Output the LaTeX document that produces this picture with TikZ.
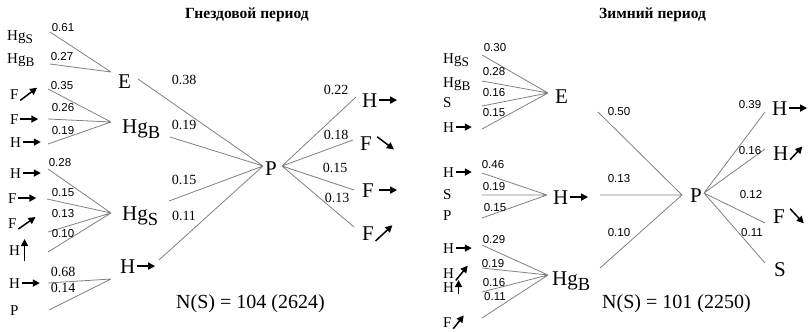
\documentclass[tikz,border=0pt]{standalone}
\usepackage{fontspec}
\usepackage{graphicx}
\setmainfont{Liberation Serif}
\newfontfamily\numfont{Liberation Sans}
\usetikzlibrary{arrows.meta}

\definecolor{linegray}{RGB}{135,126,126}

\tikzset{
  arrtip/.style = {-{Triangle[length=7pt,width=7pt]}, line width=1.5pt, black},
}

% subscript in Hg_S / Hg_B
\newcommand{\Hg}[1]{Hg\raisebox{-0.25em}{\scalebox{0.88}{#1}}}
% small bold arrow: [length]{angle}
\newcommand{\dirarr}[2][18]{\hspace{1pt}\tikz[baseline=-0.33em]
  \draw[arrtip] (0pt,0pt) ++(#2+180:#1*0.5pt) -- ++(#2:#1*1pt);}

\begin{document}
\begin{tikzpicture}[x=1pt, y=-1pt,
  lbl/.style = {font=\fontsize{15}{17}\selectfont, inner sep=0pt, anchor=base west},
  hub/.style = {font=\fontsize{21}{24}\selectfont, inner sep=0pt, anchor=base west},
  num/.style = {font=\numfont\fontsize{11.5}{13}\selectfont, inner sep=0pt},
  bignum/.style = {font=\fontsize{14}{16}\selectfont, inner sep=0pt},
  heading/.style = {font=\bfseries\fontsize{15.5}{17}\selectfont, inner sep=0pt, anchor=base west},
  total/.style = {font=\fontsize{20}{22}\selectfont, inner sep=0pt, anchor=base west},
  link/.style = {draw=linegray, line width=0.8pt},
]
\useasboundingbox (0,0) rectangle (809,332);

%% ── Titles ───────────────────────────────────────────────────────────────────
\node[heading] (nTitle) at (185,19) {Гнездовой период};
\node[heading] (wTitle) at (599,19) {Зимний период};

%% ── Nesting period: group E ──────────────────────────────────────────────────
\node[lbl] (nE-HgS) at (7,40) {\Hg{S}};
\node[lbl] (nE-HgB) at (7,63) {\Hg{B}};
\coordinate (nE-s1) at (50,32);
\coordinate (nE-s2) at (50,64);
\coordinate (nE-j) at (111,72);
\draw[link] (nE-s1) -- (nE-j) (nE-s2) -- (nE-j);
\node[num] (nE-n1) at (63,28) {0.61};
\node[num] (nE-n2) at (62,57) {0.27};
\node[hub] (nE) at (118,88) {E};

%% ── Nesting period: group Hg_B ───────────────────────────────────────────────
\node[lbl] (nHgB-F1) at (10,99) {F\dirarr[21]{37}};
\node[lbl] (nHgB-F2) at (10,124) {F\dirarr{0}};
\node[lbl] (nHgB-H1) at (10,147) {H\dirarr{0}};
\coordinate (nHgB-s1) at (48,89);
\coordinate (nHgB-s2) at (48,119);
\coordinate (nHgB-s3) at (48,144);
\coordinate (nHgB-j) at (111,122);
\draw[link] (nHgB-s1) -- (nHgB-j) (nHgB-s2) -- (nHgB-j) (nHgB-s3) -- (nHgB-j);
\node[num] (nHgB-n1) at (62,86) {0.35};
\node[num] (nHgB-n2) at (63,108) {0.26};
\node[num] (nHgB-n3) at (63,131) {0.19};
\node[hub] (nHgB) at (122,133) {\Hg{B}};

%% ── Nesting period: group Hg_S ───────────────────────────────────────────────
\node[lbl] (nHgS-H1) at (10,178) {H\dirarr{0}};
\node[lbl] (nHgS-F1) at (8,203) {F\dirarr{0}};
\node[lbl] (nHgS-F2) at (8,228) {F\dirarr[21]{35}};
\node[lbl] (nHgS-H2) at (9,255) {H\dirarr[22]{90}};
\coordinate (nHgS-s1) at (48,169);
\coordinate (nHgS-s2) at (47,199);
\coordinate (nHgS-s3) at (48,232);
\coordinate (nHgS-s4) at (48,252);
\coordinate (nHgS-j) at (111,213);
\draw[link] (nHgS-s1) -- (nHgS-j) (nHgS-s2) -- (nHgS-j)
            (nHgS-s3) -- (nHgS-j) (nHgS-s4) -- (nHgS-j);
\node[num] (nHgS-n1) at (60,163) {0.28};
\node[num] (nHgS-n2) at (63,193) {0.15};
\node[num] (nHgS-n3) at (63,214) {0.13};
\node[num] (nHgS-n4) at (63,234) {0.10};
\node[hub] (nHgS) at (122,220) {\Hg{S}};

%% ── Nesting period: group H ──────────────────────────────────────────────────
\node[lbl] (nH-H1) at (9,288) {H\dirarr{0}};
\node[lbl] (nH-P1) at (10,315) {P};
\coordinate (nH-s1) at (48,283);
\coordinate (nH-s2) at (49,310);
\coordinate (nH-j) at (111,279);
\draw[link] (nH-s1) -- (nH-j) (nH-s2) -- (nH-j);
\node[bignum] (nH-n1) at (63,272) {0.68};
\node[bignum] (nH-n2) at (63,288) {0.14};
\node[hub] (nH) at (120,273) {H\dirarr{0}};

%% ── Nesting period: P ────────────────────────────────────────────────────────
\node[hub] (nP) at (265,175) {P};
\coordinate (nP-in) at (263,166);
\coordinate (nP-out) at (282,166);
\coordinate (nE-o) at (138,79);
\coordinate (nHgB-o) at (170,137);
\coordinate (nHgS-o) at (169,201);
\coordinate (nH-o) at (159,260);
\draw[link] (nE-o) -- (nP-in) (nHgB-o) -- (nP-in)
            (nHgS-o) -- (nP-in) (nH-o) -- (nP-in);
\node[bignum] (nP-n1) at (184,80) {0.38};
\node[bignum] (nP-n2) at (184,125) {0.19};
\node[bignum] (nP-n3) at (184,180) {0.15};
\node[bignum] (nP-n4) at (184,216) {0.11};

\coordinate (nO1-e) at (356,97);
\coordinate (nO2-e) at (353,140);
\coordinate (nO3-e) at (354,190);
\coordinate (nO4-e) at (354,227);
\draw[link] (nP-out) -- (nO1-e) (nP-out) -- (nO2-e)
            (nP-out) -- (nO3-e) (nP-out) -- (nO4-e);
\node[bignum] (nO-n1) at (336,90) {0.22};
\node[bignum] (nO-n2) at (336,135) {0.18};
\node[bignum] (nO-n3) at (335,168) {0.15};
\node[bignum] (nO-n4) at (337,198) {0.13};
\node[hub] (nO1) at (362,107) {H\dirarr{0}};
\node[hub] (nO2) at (360,150) {F\,\dirarr[21]{-37}};
\node[hub] (nO3) at (362,197) {F\,\dirarr{0}};
\node[hub] (nO4) at (362,240) {F\dirarr[23]{43}};

\node[total] (nN) at (176,308) {N(S) = 104 (2624)};

%% ── Winter period: group E ───────────────────────────────────────────────────
\node[lbl] (wE-HgS) at (443,63) {\Hg{S}};
\node[lbl] (wE-HgB) at (443,87) {\Hg{B}};
\node[lbl] (wE-S1) at (443,107) {S};
\node[lbl] (wE-H1) at (443,132) {H\dirarr[16]{0}};
\coordinate (wE-s1) at (482,55);
\coordinate (wE-s2) at (482,81);
\coordinate (wE-s3) at (482,106);
\coordinate (wE-s4) at (482,129);
\coordinate (wE-j) at (548,93);
\draw[link] (wE-s1) -- (wE-j) (wE-s2) -- (wE-j)
            (wE-s3) -- (wE-j) (wE-s4) -- (wE-j);
\node[num] (wE-n1) at (495,48) {0.30};
\node[num] (wE-n2) at (494,72) {0.28};
\node[num] (wE-n3) at (494,93) {0.16};
\node[num] (wE-n4) at (494,113) {0.15};
\node[hub] (wE) at (555,103) {E};

%% ── Winter period: group H ───────────────────────────────────────────────────
\node[lbl] (wH-H1) at (443,177) {H\dirarr[16]{0}};
\node[lbl] (wH-S1) at (443,199) {S};
\node[lbl] (wH-P1) at (443,220) {P};
\coordinate (wH-s1) at (482,173);
\coordinate (wH-s2) at (482,195);
\coordinate (wH-s3) at (482,218);
\coordinate (wH-j) at (547,195);
\draw[link] (wH-s1) -- (wH-j) (wH-s2) -- (wH-j) (wH-s3) -- (wH-j);
\node[num] (wH-n1) at (493,165) {0.46};
\node[num] (wH-n2) at (494,187) {0.19};
\node[num] (wH-n3) at (495,208) {0.15};
\node[hub] (wH) at (553,204) {H\dirarr{0}};

%% ── Winter period: group Hg_B ────────────────────────────────────────────────
\node[lbl] (wHg-H1) at (443,253) {H\dirarr[16]{0}};
\node[lbl] (wHg-H2) at (443,278) {H\dirarr[19]{51}};
\node[lbl] (wHg-H3) at (443,292) {H\dirarr[14]{90}};
\node[lbl] (wHg-F1) at (443,327) {F\dirarr[17]{52}};
\coordinate (wHg-s1) at (482,245);
\coordinate (wHg-s2) at (482,268);
\coordinate (wHg-s3) at (482,292);
\coordinate (wHg-s4) at (482,318);
\coordinate (wHg-j) at (548,275);
\draw[link] (wHg-s1) -- (wHg-j) (wHg-s2) -- (wHg-j)
            (wHg-s3) -- (wHg-j) (wHg-s4) -- (wHg-j);
\node[num] (wHg-n1) at (494,240) {0.29};
\node[num] (wHg-n2) at (493,264) {0.19};
\node[num] (wHg-n3) at (494,283) {0.16};
\node[num] (wHg-n4) at (495,297) {0.11};
\node[hub] (wHg) at (552,285) {\Hg{B}};

%% ── Winter period: P ─────────────────────────────────────────────────────────
\node[hub] (wP) at (690,202) {P};
\coordinate (wP-in) at (682,195);
\coordinate (wP-out) at (704,193);
\coordinate (wE-o) at (598,112);
\coordinate (wH-o) at (600,195);
\coordinate (wHg-o) at (600,268);
\draw[link] (wE-o) -- (wP-in) (wH-o) -- (wP-in) (wHg-o) -- (wP-in);
\node[num] (wP-n1) at (619,112) {0.50};
\node[num] (wP-n2) at (619,179) {0.13};
\node[num] (wP-n3) at (619,233) {0.10};

\coordinate (wO1-e) at (765,112);
\coordinate (wO2-e) at (765,149);
\coordinate (wO3-e) at (765,223);
\coordinate (wO4-e) at (765,263);
\draw[link] (wP-out) -- (wO1-e) (wP-out) -- (wO2-e)
            (wP-out) -- (wO3-e) (wP-out) -- (wO4-e);
\node[num] (wO-n1) at (750,105) {0.39};
\node[num] (wO-n2) at (750,151) {0.16};
\node[num] (wO-n3) at (751,195) {0.12};
\node[num] (wO-n4) at (752,233) {0.11};
\node[hub] (wO1) at (772,115) {H\dirarr{0}};
\node[hub] (wO2) at (773,160) {H\dirarr[18]{47}};
\node[hub] (wO3) at (773,223) {F\,\dirarr[20]{-47}};
\node[hub] (wO4) at (774,276) {S};

\node[total] (wN) at (602,308) {N(S) = 101 (2250)};

\end{tikzpicture}
\end{document}
